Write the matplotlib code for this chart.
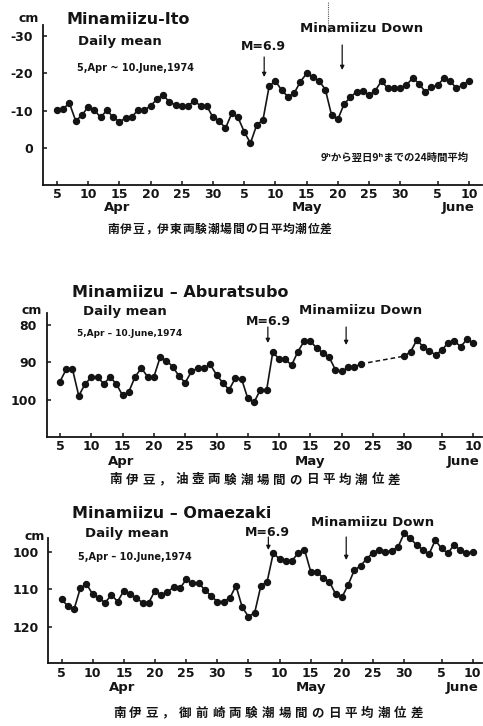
import matplotlib
matplotlib.use('Agg')
import matplotlib.pyplot as plt
import matplotlib.transforms as mtransforms
import numpy as np

plt.rcParams['font.family'] = ['DejaVu Sans', 'Noto Sans CJK JP']
plt.rcParams['font.weight'] = 'bold'

# day 0 = 5 Apr 1974 ... day 66 = 10 June 1974
days = np.arange(67)
tick_days = [0, 5, 10, 15, 20, 25, 30, 35, 40, 45, 50, 55, 61, 66]
tick_labels = ['5', '10', '15', '20', '25', '30',
               '5', '10', '15', '20', '25', '30', '5', '10']
months = ['Apr', 'May', 'June']
month_days = [9.7, 40.0, 64.3]
quake_day = 33.2       # M=6.9
down_day = 45.7        # Minamiizu down

# daily mean tide level difference (cm)
ito = [-10.2, -10.6, -12.0, -7.3, -8.8, -11.1, -10.2, -8.2, -10.2, -8.2,
       -7.1, -8.0, -8.4, -10.2, -10.2, -11.3, -13.1, -14.2, -12.4, -11.5,
       -11.3, -11.3, -12.7, -11.3, -11.3, -8.2, -7.3, -5.3, -9.3, -8.2,
       -4.4, -1.3, -6.2, -7.5, -16.6, -18.0, -15.5, -13.8, -14.7, -17.8,
       -20.0, -19.0, -18.0, -15.7, -8.8, -7.7, -11.8, -13.6, -15.1, -15.4,
       -14.2, -15.4, -18.0, -16.0, -16.0, -16.0, -16.9, -18.8, -17.3, -15.1,
       -16.3, -16.9, -18.7, -18.0, -16.0, -16.9, -18.0]

nan = np.nan
aburatsubo = [95.1, 91.8, 91.8, 98.9, 95.8, 93.9, 93.9, 95.7, 93.9, 95.7,
              98.8, 97.8, 93.8, 91.5, 93.8, 93.8, 88.6, 89.5, 91.1, 93.6,
              95.4, 92.4, 91.5, 91.5, 90.5, 93.3, 95.4, 97.3, 94.2, 94.4,
              99.6, 100.6, 97.3, 97.4, 87.1, 89.2, 89.2, 90.7, 87.1, 84.3,
              84.3, 86.2, 87.4, 88.6, 92.0, 92.4, 91.3, 91.3, 90.4, nan,
              nan, nan, nan, nan, nan, 88.3, 87.1, 84.0, 85.8, 86.9,
              88.0, 86.7, 84.7, 84.3, 85.8, 83.8, 84.9]

omaezaki = [112.7, 114.5, 115.4, 109.8, 108.6, 111.4, 112.4, 113.6, 111.5, 113.3,
            110.4, 111.4, 112.4, 113.6, 113.6, 110.4, 111.5, 110.7, 109.5, 109.8,
            107.4, 108.3, 108.3, 110.2, 111.8, 113.3, 113.3, 112.4, 109.1, 114.8,
            117.3, 116.3, 109.1, 108.0, 100.3, 102.0, 102.4, 102.4, 100.3, 99.4,
            105.3, 105.3, 107.1, 108.0, 111.3, 112.2, 108.9, 104.9, 103.8, 101.8,
            100.3, 99.4, 100.0, 99.7, 98.8, 95.1, 96.4, 98.2, 99.4, 100.6,
            96.9, 99.1, 100.4, 98.2, 99.5, 100.4, 100.0]

W, H = 483, 726
INK = '#141414'
fig = plt.figure(figsize=(W / 100, H / 100), dpi=100)


def fx(px):
    return px / W


def fy(py):
    return 1 - py / H


def put(px, py, s, size, ha='left', **kw):
    fig.text(fx(px), fy(py), s, fontsize=size, ha=ha, va='center',
             color=INK, **kw)


def spaced(px0, px1, py, s, size):
    # evenly spread characters between two x positions
    step = (px1 - px0) / (len(s) - 1)
    for i, ch in enumerate(s):
        put(px0 + i * step, py, ch, size, ha='center')


def panel(box, xlim, ylim, values, yticks, ylabels, month_y):
    l, t, r, b = box
    ax = fig.add_axes([fx(l), fy(b), (r - l) / W, (b - t) / H])
    v = np.asarray(values, dtype=float)
    ax.plot(days, v, '-o', color=INK, lw=1.2, ms=4.3, clip_on=False)
    ax.set_xlim(*xlim)
    ax.set_ylim(*ylim)
    for s in ('top', 'right'):
        ax.spines[s].set_visible(False)
    for s in ('left', 'bottom'):
        ax.spines[s].set_linewidth(1.3)
        ax.spines[s].set_color(INK)
    ax.set_xticks(tick_days)
    ax.set_xticklabels(tick_labels)
    ax.set_yticks(yticks)
    ax.set_yticklabels(ylabels)
    ax.tick_params(axis='x', direction='in', length=3, width=1.1,
                   pad=2.5, labelsize=9, colors=INK)
    ax.tick_params(axis='y', direction='in', length=3, width=1.1,
                   pad=7, labelsize=9, colors=INK)
    trans = mtransforms.blended_transform_factory(ax.transData, fig.transFigure)
    for m, d in zip(months, month_days):
        ax.text(d, fy(month_y), m, transform=trans, ha='center', va='center',
                fontsize=9.5, color=INK)
    return ax


def arrow(ax, day, py0, py1):
    ax.annotate('', xy=(day, fy(py1)), xytext=(day, fy(py0)),
                xycoords=('data', 'figure fraction'),
                textcoords=('data', 'figure fraction'),
                arrowprops=dict(arrowstyle='-|>', lw=0.9, color=INK,
                                mutation_scale=6, shrinkA=0, shrinkB=0))


# Minamiizu - Ito
ax1 = panel((43, 25, 482, 185), (-2.24, 68.1), (9.9, -33), ito,
            [-30, -20, -10, 0], ['-30', '-20', '-10', '0'], 208)
put(29, 18, 'cm', 9, ha='center')
put(67, 20, 'Minamiizu-Ito', 11.5)
put(78, 41, 'Daily mean', 9.5)
put(77, 68, '5,Apr ~ 10.June,1974', 7)
put(263, 46, 'M=6.9', 9, ha='center')
arrow(ax1, quake_day, 57, 77)
put(362, 28, 'Minamiizu Down', 9.5, ha='center')
arrow(ax1, down_day, 45, 70)
fig.add_artist(plt.Line2D([fx(328), fx(328)], [fy(2), fy(33)], lw=0.8,
                          ls=(0, (1, 1)), color='#555555'))
put(395, 158, '9ʰから翌日9ʰまでの24時間平均', 7.5, ha='center',
    family=['Noto Sans CJK JP', 'DejaVu Sans'])
spaced(113, 326, 229, '南伊豆，伊東両験潮場間の日平均潮位差', 8.5)

# Minamiizu - Aburatsubo
ax2 = panel((46.7, 313, 482, 436.7), (-2.12, 67.4), (109.8, 76.8), aburatsubo,
            [80, 90, 100], ['80', '90', '100'], 461)
a = np.asarray(aburatsubo)
ax2.plot([days[48], days[55]], [a[48], a[55]], ls=(0, (3, 2)), lw=1.1,
         color=INK)
put(32, 311, 'cm', 9, ha='center')
put(72, 292, 'Minamiizu – Aburatsubo', 11.5)
put(83, 312, 'Daily mean', 9.5)
put(77, 334, '5,Apr – 10.June,1974', 6.5)
put(268, 322, 'M=6.9', 9, ha='center')
arrow(ax2, quake_day, 327, 343)
put(361, 311, 'Minamiizu Down', 9.5, ha='center')
arrow(ax2, down_day, 327, 345)
spaced(116, 394, 480, '南伊豆，油壺両験潮場間の日平均潮位差', 9)

# Minamiizu - Omaezaki
ax3 = panel((48.3, 538.3, 482, 663.3), (-2.13, 67.5), (129.8, 96.4), omaezaki,
            [100, 110, 120], ['100', '110', '120'], 688)
put(35, 537, 'cm', 9, ha='center')
put(72, 514, 'Minamiizu – Omaezaki', 11.5)
put(85, 534, 'Daily mean', 9.5)
put(78, 557, '5,Apr – 10.June,1974', 7)
put(267, 532, 'M=6.9', 9, ha='center')
arrow(ax3, quake_day, 537, 550)
put(373, 522, 'Minamiizu Down', 9.5, ha='center')
arrow(ax3, down_day, 537, 560)
spaced(119, 417, 713, '南伊豆，御前崎両験潮場間の日平均潮位差', 9)

fig.savefig('out.png', dpi=100)
